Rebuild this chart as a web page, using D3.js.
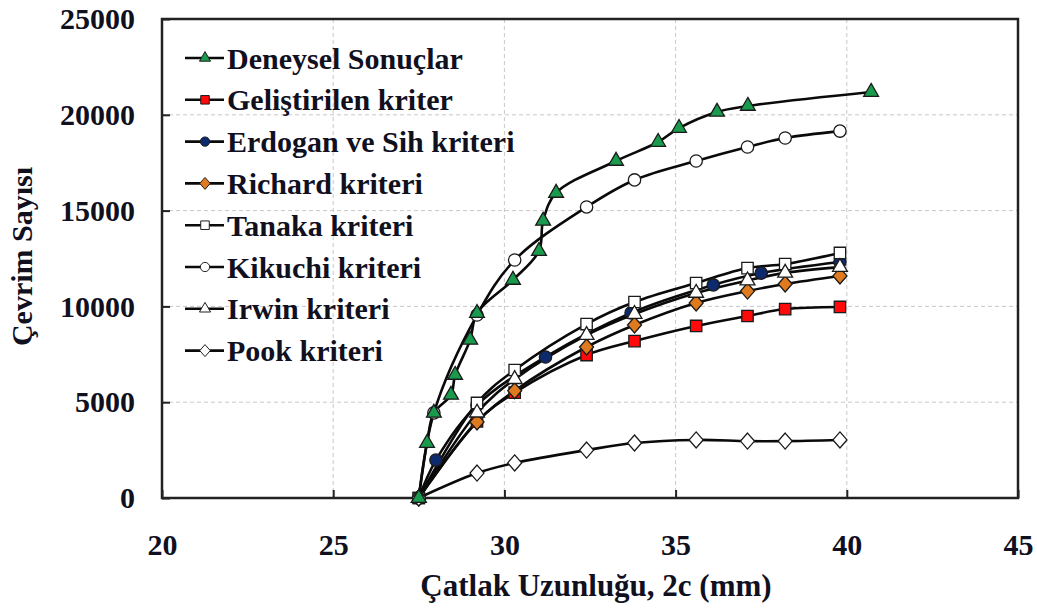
<!DOCTYPE html>
<html><head><meta charset="utf-8">
<script src="https://cdn.jsdelivr.net/npm/d3@7"></script>
<style>body{margin:0;background:#fff}svg{display:block}text{font-family:"Liberation Serif","Times New Roman",serif;font-weight:bold;fill:#10101e}</style>
</head><body><svg id="c" width="1037" height="608"></svg>
<script>
const xTicks = [20, 25, 30, 35, 40, 45];
const yTicks = [0, 5000, 10000, 15000, 20000, 25000];
const xTitle = "Çatlak Uzunluğu, 2c (mm)";
const yTitle = "Çevrim Sayısı";

const seriesNames = ["Deneysel Sonuçlar","Geliştirilen kriter","Erdogan ve Sih kriteri","Richard kriteri","Tanaka kriteri","Kikuchi kriteri","Irwin kriteri","Pook kriteri"];

const denX = [27.5, 27.74, 27.94, 28.44, 28.56, 29.0, 29.2, 30.25, 31.01, 31.13, 31.51, 33.26, 34.49, 35.1, 36.21, 37.11, 40.71];
const denY = [0, 2870, 4440, 5380, 6420, 8250, 9650, 11380, 12890, 14460, 15920, 17590, 18580, 19310, 20150, 20460, 21190];

const modelX = [27.5, 29.2, 30.3, 32.4, 33.8, 35.6, 37.1, 38.2, 39.8];
const gelY = [0, 4000, 5500, 7460, 8190, 8980, 9500, 9860, 9970];
const richY = [0, 3970, 5600, 7880, 9030, 10180, 10800, 11170, 11590];
const tanY = [0, 4960, 6680, 9080, 10230, 11220, 12000, 12210, 12790];
const irwY = [0, 4450, 6200, 8500, 9600, 10700, 11350, 11750, 12050];
const pookY = [0, 1300, 1830, 2500, 2870, 3030, 2970, 2970, 3030];

const kikX = [27.5, 27.94, 29.2, 30.3, 32.4, 33.8, 35.6, 37.1, 38.2, 39.8];
const kikY = [0, 4440, 9550, 12420, 15190, 16600, 17590, 18320, 18790, 19150];

const erdX = [27.5, 28.0, 29.2, 31.2, 33.7, 36.1, 37.5, 39.8];
const erdY = [0, 1980, 4850, 7360, 9660, 11120, 11740, 12320];

const seriesX = [denX, modelX, erdX, modelX, modelX, kikX, modelX, modelX];
const seriesY = [denY, gelY, erdY, richY, tanY, kikY, irwY, pookY];
const markers = ["triangle","square","circle","diamond","square","circle","triangle","diamond"];
const fills = ["#1a9a4c","#ff0a0a","#0e2a6e","#e07a1e","#ffffff","#ffffff","#ffffff","#ffffff"];

const svg = d3.select("#c");
const L = 162, R = 1018, T = 19, B = 498;
const x = d3.scaleLinear().domain([20, 45]).range([L, R]);
const y = d3.scaleLinear().domain([0, 25000]).range([B, T]);

// grid
svg.append("g").selectAll("line").data(xTicks.slice(1, -1)).join("line")
  .attr("x1", d => x(d)).attr("x2", d => x(d)).attr("y1", T).attr("y2", B)
  .attr("stroke", "#c8c8c8").attr("stroke-width", 1).attr("stroke-dasharray", "4,3");
svg.append("g").selectAll("line").data(yTicks.slice(1, -1)).join("line")
  .attr("y1", d => y(d)).attr("y2", d => y(d)).attr("x1", L).attr("x2", R)
  .attr("stroke", "#c8c8c8").attr("stroke-width", 1).attr("stroke-dasharray", "4,3");

// axes (ticks inward)
const xa = svg.append("g").attr("transform", `translate(0,${B})`)
  .call(d3.axisBottom(x).tickValues(xTicks).tickSize(-8).tickPadding(36).tickFormat(d3.format("d")));
const ya = svg.append("g").attr("transform", `translate(${L},0)`)
  .call(d3.axisLeft(y).tickValues(yTicks).tickSize(-8).tickPadding(27).tickFormat(d3.format("d")));
[xa, ya].forEach(a => {
  a.select(".domain").remove();
  a.selectAll("line").attr("stroke", "#222").attr("stroke-width", 2);
  a.selectAll("text").style("font-size", "30px").attr("fill", "#10101e");
});
xa.selectAll("text").attr("dy", "0.71em");

svg.append("rect").attr("x", L).attr("y", T).attr("width", R - L).attr("height", B - T)
  .attr("fill", "none").attr("stroke", "#222").attr("stroke-width", 2.5);

const symType = {triangle: d3.symbolTriangle, square: d3.symbolSquare, circle: d3.symbolCircle, diamond: d3.symbolDiamond};
const symSize = {triangle: 95, square: 130, circle: 120, diamond: 120};
function sym(m) {
  if (m === "diamond") {
    return "M0,-8L7,0L0,8L-7,0Z";
  }
  return d3.symbol().type(symType[m]).size(symSize[m])();
}

const line = d3.line().curve(d3.curveCatmullRom.alpha(0.5));

const plot = svg.append("g");
seriesNames.forEach((name, i) => {
  const pts = seriesX[i].map((v, j) => [x(v), y(seriesY[i][j])]);
  plot.append("path").attr("d", line(pts)).attr("fill", "none")
    .attr("stroke", "#0a0a0a").attr("stroke-width", 2.6);
});
// markers in series order, with the measured series on top
const order = [1, 2, 3, 4, 5, 6, 7, 0];
order.forEach(i => {
  const pts = seriesX[i].map((v, j) => [x(v), y(seriesY[i][j])]);
  plot.append("g").selectAll("path").data(pts).join("path")
    .attr("transform", d => `translate(${d[0]},${d[1]})`)
    .attr("d", sym(markers[i]))
    .attr("fill", fills[i]).attr("stroke", "#1a1a1a").attr("stroke-width", 1.3);
});

// legend
const lg = svg.append("g");
seriesNames.forEach((name, i) => {
  const yy = 58 + i * 41.8;
  lg.append("line").attr("x1", 185).attr("x2", 224).attr("y1", yy).attr("y2", yy)
    .attr("stroke", "#0a0a0a").attr("stroke-width", 2.6);
  lg.append("path").attr("transform", `translate(205,${yy}) scale(0.75)`).attr("d", sym(markers[i]))
    .attr("fill", fills[i]).attr("stroke", "#1a1a1a").attr("stroke-width", 1.3);
  lg.append("text").attr("x", 227).attr("y", yy).attr("dy", "0.35em")
    .style("font-size", "30px").text(name);
});

// titles
svg.append("text").attr("x", 596).attr("y", 596).attr("text-anchor", "middle")
  .style("font-size", "31px").text(xTitle);
svg.append("text").attr("transform", `translate(32,${(T + B) / 2 - 2}) rotate(-90)`).attr("text-anchor", "middle")
  .style("font-size", "30px").text(yTitle);
</script></body></html>
